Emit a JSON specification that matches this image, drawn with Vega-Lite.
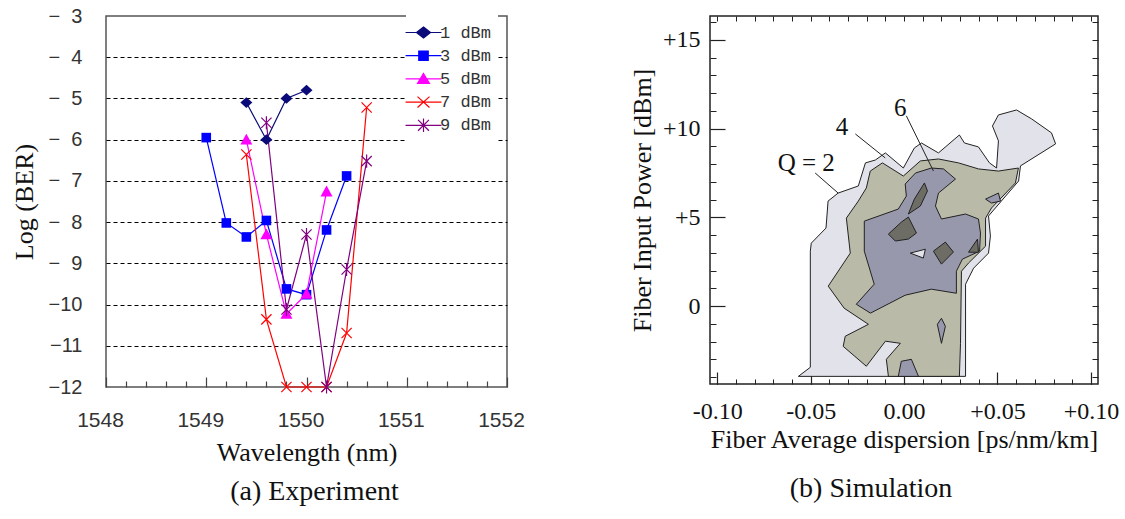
{
  "$schema": "https://vega.github.io/schema/vega-lite/v6.json",
  "background": "white",
  "padding": {"left": 10, "top": 5, "right": 0, "bottom": 5},
  "spacing": 102,
  "resolve": {"scale": {"color": "independent", "shape": "independent"}, "legend": {"color": "independent", "shape": "independent"}},
  "datasets": {
    "ber": [
      {"series": "1 dBm", "wl": 1549.4, "ber": -5.1},
      {"series": "1 dBm", "wl": 1549.6, "ber": -6.0},
      {"series": "1 dBm", "wl": 1549.8, "ber": -5.0},
      {"series": "1 dBm", "wl": 1550.0, "ber": -4.8},
      {"series": "3 dBm", "wl": 1549.0, "ber": -5.95},
      {"series": "3 dBm", "wl": 1549.2, "ber": -8.02},
      {"series": "3 dBm", "wl": 1549.4, "ber": -8.36},
      {"series": "3 dBm", "wl": 1549.6, "ber": -7.96},
      {"series": "3 dBm", "wl": 1549.8, "ber": -9.62},
      {"series": "3 dBm", "wl": 1550.0, "ber": -9.76},
      {"series": "3 dBm", "wl": 1550.2, "ber": -8.19},
      {"series": "3 dBm", "wl": 1550.4, "ber": -6.88},
      {"series": "5 dBm", "wl": 1549.4, "ber": -6.0},
      {"series": "5 dBm", "wl": 1549.6, "ber": -8.3},
      {"series": "5 dBm", "wl": 1549.8, "ber": -10.23},
      {"series": "5 dBm", "wl": 1550.0, "ber": -9.74},
      {"series": "5 dBm", "wl": 1550.2, "ber": -7.26},
      {"series": "7 dBm", "wl": 1549.4, "ber": -6.36},
      {"series": "7 dBm", "wl": 1549.6, "ber": -10.36},
      {"series": "7 dBm", "wl": 1549.8, "ber": -12},
      {"series": "7 dBm", "wl": 1550.0, "ber": -12},
      {"series": "7 dBm", "wl": 1550.2, "ber": -12},
      {"series": "7 dBm", "wl": 1550.4, "ber": -10.69},
      {"series": "7 dBm", "wl": 1550.6, "ber": -5.22},
      {"series": "9 dBm", "wl": 1549.6, "ber": -5.59},
      {"series": "9 dBm", "wl": 1549.8, "ber": -10.12},
      {"series": "9 dBm", "wl": 1550.0, "ber": -8.3},
      {"series": "9 dBm", "wl": 1550.2, "ber": -12},
      {"series": "9 dBm", "wl": 1550.4, "ber": -9.15},
      {"series": "9 dBm", "wl": 1550.6, "ber": -6.52}
    ],
    "contour": [
      {"lv": "q2", "p": 1, "i": 1, "x": -0.0566, "y": -3.95},
      {"lv": "q2", "p": 1, "i": 2, "x": -0.0502, "y": -3.44},
      {"lv": "q2", "p": 1, "i": 3, "x": -0.0502, "y": 3.10},
      {"lv": "q2", "p": 1, "i": 4, "x": -0.0497, "y": 3.55},
      {"lv": "q2", "p": 1, "i": 5, "x": -0.0418, "y": 4.40},
      {"lv": "q2", "p": 1, "i": 6, "x": -0.0407, "y": 5.92},
      {"lv": "q2", "p": 1, "i": 7, "x": -0.0353, "y": 6.37},
      {"lv": "q2", "p": 1, "i": 8, "x": -0.0245, "y": 6.77},
      {"lv": "q2", "p": 1, "i": 9, "x": -0.0207, "y": 8.07},
      {"lv": "q2", "p": 1, "i": 10, "x": -0.0154, "y": 8.23},
      {"lv": "q2", "p": 1, "i": 11, "x": -0.0100, "y": 8.63},
      {"lv": "q2", "p": 1, "i": 12, "x": -0.0004, "y": 7.78},
      {"lv": "q2", "p": 1, "i": 13, "x": 0.0055, "y": 8.91},
      {"lv": "q2", "p": 1, "i": 14, "x": 0.0093, "y": 9.19},
      {"lv": "q2", "p": 1, "i": 15, "x": 0.0184, "y": 8.63},
      {"lv": "q2", "p": 1, "i": 16, "x": 0.0296, "y": 9.64},
      {"lv": "q2", "p": 1, "i": 17, "x": 0.0323, "y": 9.19},
      {"lv": "q2", "p": 1, "i": 18, "x": 0.0398, "y": 8.97},
      {"lv": "q2", "p": 1, "i": 19, "x": 0.0457, "y": 8.07},
      {"lv": "q2", "p": 1, "i": 20, "x": 0.0495, "y": 7.78},
      {"lv": "q2", "p": 1, "i": 21, "x": 0.0505, "y": 9.31},
      {"lv": "q2", "p": 1, "i": 22, "x": 0.0473, "y": 10.15},
      {"lv": "q2", "p": 1, "i": 23, "x": 0.0505, "y": 10.77},
      {"lv": "q2", "p": 1, "i": 24, "x": 0.0602, "y": 11.05},
      {"lv": "q2", "p": 1, "i": 25, "x": 0.0682, "y": 10.55},
      {"lv": "q2", "p": 1, "i": 26, "x": 0.0789, "y": 9.76},
      {"lv": "q2", "p": 1, "i": 27, "x": 0.0811, "y": 9.14},
      {"lv": "q2", "p": 1, "i": 28, "x": 0.0623, "y": 7.90},
      {"lv": "q2", "p": 1, "i": 29, "x": 0.0613, "y": 7.05},
      {"lv": "q2", "p": 1, "i": 30, "x": 0.0452, "y": 5.08},
      {"lv": "q2", "p": 1, "i": 31, "x": 0.0462, "y": 3.95},
      {"lv": "q2", "p": 1, "i": 32, "x": 0.0452, "y": 2.99},
      {"lv": "q2", "p": 1, "i": 33, "x": 0.0372, "y": 2.14},
      {"lv": "q2", "p": 1, "i": 34, "x": 0.0329, "y": 1.24},
      {"lv": "q2", "p": 1, "i": 35, "x": 0.0329, "y": -3.95},
      {"lv": "q2", "p": 1, "i": 36, "x": -0.0566, "y": -3.95},
      {"lv": "q4", "p": 1, "i": 1, "x": -0.0181, "y": 7.61},
      {"lv": "q4", "p": 1, "i": 2, "x": -0.0116, "y": 8.07},
      {"lv": "q4", "p": 1, "i": 3, "x": -0.0004, "y": 7.33},
      {"lv": "q4", "p": 1, "i": 4, "x": 0.0087, "y": 8.18},
      {"lv": "q4", "p": 1, "i": 5, "x": 0.0184, "y": 8.29},
      {"lv": "q4", "p": 1, "i": 6, "x": 0.0291, "y": 8.07},
      {"lv": "q4", "p": 1, "i": 7, "x": 0.0398, "y": 7.73},
      {"lv": "q4", "p": 1, "i": 8, "x": 0.0505, "y": 7.61},
      {"lv": "q4", "p": 1, "i": 9, "x": 0.0612, "y": 7.78},
      {"lv": "q4", "p": 1, "i": 10, "x": 0.0596, "y": 6.94},
      {"lv": "q4", "p": 1, "i": 11, "x": 0.0468, "y": 5.53},
      {"lv": "q4", "p": 1, "i": 12, "x": 0.0436, "y": 4.96},
      {"lv": "q4", "p": 1, "i": 13, "x": 0.0436, "y": 3.38},
      {"lv": "q4", "p": 1, "i": 14, "x": 0.0345, "y": 2.43},
      {"lv": "q4", "p": 1, "i": 15, "x": 0.0307, "y": 1.97},
      {"lv": "q4", "p": 1, "i": 16, "x": 0.0302, "y": -2.09},
      {"lv": "q4", "p": 1, "i": 17, "x": 0.0296, "y": -3.95},
      {"lv": "q4", "p": 1, "i": 18, "x": -0.0084, "y": -3.95},
      {"lv": "q4", "p": 1, "i": 19, "x": -0.0095, "y": -2.99},
      {"lv": "q4", "p": 1, "i": 20, "x": -0.0020, "y": -2.09},
      {"lv": "q4", "p": 1, "i": 21, "x": -0.0100, "y": -1.97},
      {"lv": "q4", "p": 1, "i": 22, "x": -0.0202, "y": -3.38},
      {"lv": "q4", "p": 1, "i": 23, "x": -0.0326, "y": -2.26},
      {"lv": "q4", "p": 1, "i": 24, "x": -0.0315, "y": -1.69},
      {"lv": "q4", "p": 1, "i": 25, "x": -0.0191, "y": -1.02},
      {"lv": "q4", "p": 1, "i": 26, "x": -0.0321, "y": -0.11},
      {"lv": "q4", "p": 1, "i": 27, "x": -0.0406, "y": 1.13},
      {"lv": "q4", "p": 1, "i": 28, "x": -0.0288, "y": 2.99},
      {"lv": "q4", "p": 1, "i": 29, "x": -0.0309, "y": 4.96},
      {"lv": "q4", "p": 1, "i": 30, "x": -0.0245, "y": 5.92},
      {"lv": "q4", "p": 1, "i": 31, "x": -0.0202, "y": 6.66},
      {"lv": "q4", "p": 1, "i": 32, "x": -0.0181, "y": 7.61},
      {"lv": "q6", "p": 1, "i": 1, "x": 0.0006, "y": 6.88},
      {"lv": "q6", "p": 1, "i": 2, "x": 0.0061, "y": 7.50},
      {"lv": "q6", "p": 1, "i": 3, "x": 0.0146, "y": 7.78},
      {"lv": "q6", "p": 1, "i": 4, "x": 0.0211, "y": 7.73},
      {"lv": "q6", "p": 1, "i": 5, "x": 0.0275, "y": 7.16},
      {"lv": "q6", "p": 1, "i": 6, "x": 0.0184, "y": 6.37},
      {"lv": "q6", "p": 1, "i": 7, "x": 0.0168, "y": 5.64},
      {"lv": "q6", "p": 1, "i": 8, "x": 0.0200, "y": 4.91},
      {"lv": "q6", "p": 1, "i": 9, "x": 0.0329, "y": 5.19},
      {"lv": "q6", "p": 1, "i": 10, "x": 0.0398, "y": 4.91},
      {"lv": "q6", "p": 1, "i": 11, "x": 0.0409, "y": 4.12},
      {"lv": "q6", "p": 1, "i": 12, "x": 0.0404, "y": 3.10},
      {"lv": "q6", "p": 1, "i": 13, "x": 0.0312, "y": 2.65},
      {"lv": "q6", "p": 1, "i": 14, "x": 0.0280, "y": 1.97},
      {"lv": "q6", "p": 1, "i": 15, "x": 0.0280, "y": 0.73},
      {"lv": "q6", "p": 1, "i": 16, "x": 0.0146, "y": 0.96},
      {"lv": "q6", "p": 1, "i": 17, "x": 0.0006, "y": 0.62},
      {"lv": "q6", "p": 1, "i": 18, "x": -0.0180, "y": -0.39},
      {"lv": "q6", "p": 1, "i": 19, "x": -0.0256, "y": 0.11},
      {"lv": "q6", "p": 1, "i": 20, "x": -0.0160, "y": 1.24},
      {"lv": "q6", "p": 1, "i": 21, "x": -0.0213, "y": 3.10},
      {"lv": "q6", "p": 1, "i": 22, "x": -0.0213, "y": 4.79},
      {"lv": "q6", "p": 1, "i": 23, "x": -0.0031, "y": 5.47},
      {"lv": "q6", "p": 1, "i": 24, "x": 0.0012, "y": 6.20},
      {"lv": "q6", "p": 1, "i": 25, "x": 0.0006, "y": 6.88},
      {"lv": "q6", "p": 2, "i": 1, "x": 0.0436, "y": 6.03},
      {"lv": "q6", "p": 2, "i": 2, "x": 0.0505, "y": 6.37},
      {"lv": "q6", "p": 2, "i": 3, "x": 0.0516, "y": 5.92},
      {"lv": "q6", "p": 2, "i": 4, "x": 0.0468, "y": 5.81},
      {"lv": "q6", "p": 2, "i": 5, "x": 0.0436, "y": 6.03},
      {"lv": "q6", "p": 3, "i": 1, "x": 0.0200, "y": -0.68},
      {"lv": "q6", "p": 3, "i": 2, "x": 0.0221, "y": -1.13},
      {"lv": "q6", "p": 3, "i": 3, "x": 0.0200, "y": -2.09},
      {"lv": "q6", "p": 3, "i": 4, "x": 0.0178, "y": -1.02},
      {"lv": "q6", "p": 3, "i": 5, "x": 0.0200, "y": -0.68},
      {"lv": "q6", "p": 4, "i": 1, "x": -0.0015, "y": -3.10},
      {"lv": "q6", "p": 4, "i": 2, "x": 0.0039, "y": -2.99},
      {"lv": "q6", "p": 4, "i": 3, "x": 0.0077, "y": -3.95},
      {"lv": "q6", "p": 4, "i": 4, "x": -0.0031, "y": -3.95},
      {"lv": "q6", "p": 4, "i": 5, "x": -0.0015, "y": -3.10},
      {"lv": "q8", "p": 1, "i": 1, "x": 0.0109, "y": 6.94},
      {"lv": "q8", "p": 1, "i": 2, "x": 0.0125, "y": 6.49},
      {"lv": "q8", "p": 1, "i": 3, "x": 0.0087, "y": 5.64},
      {"lv": "q8", "p": 1, "i": 4, "x": 0.0023, "y": 5.19},
      {"lv": "q8", "p": 1, "i": 5, "x": 0.0055, "y": 6.03},
      {"lv": "q8", "p": 1, "i": 6, "x": 0.0109, "y": 6.94},
      {"lv": "q8", "p": 2, "i": 1, "x": -0.0084, "y": 4.06},
      {"lv": "q8", "p": 2, "i": 2, "x": -0.0014, "y": 4.74},
      {"lv": "q8", "p": 2, "i": 3, "x": 0.0023, "y": 5.02},
      {"lv": "q8", "p": 2, "i": 4, "x": 0.0066, "y": 4.12},
      {"lv": "q8", "p": 2, "i": 5, "x": 0.0023, "y": 3.78},
      {"lv": "q8", "p": 2, "i": 6, "x": -0.0047, "y": 3.67},
      {"lv": "q8", "p": 2, "i": 7, "x": -0.0084, "y": 4.06},
      {"lv": "q8", "p": 3, "i": 1, "x": 0.0157, "y": 3.10},
      {"lv": "q8", "p": 3, "i": 2, "x": 0.0221, "y": 3.61},
      {"lv": "q8", "p": 3, "i": 3, "x": 0.0264, "y": 3.05},
      {"lv": "q8", "p": 3, "i": 4, "x": 0.0200, "y": 2.37},
      {"lv": "q8", "p": 3, "i": 5, "x": 0.0157, "y": 3.10},
      {"lv": "q8", "p": 4, "i": 1, "x": 0.0393, "y": 3.78},
      {"lv": "q8", "p": 4, "i": 2, "x": 0.0398, "y": 3.04},
      {"lv": "q8", "p": 4, "i": 3, "x": 0.0345, "y": 3.04},
      {"lv": "q8", "p": 4, "i": 4, "x": 0.0393, "y": 3.78},
      {"lv": "h", "p": 1, "i": 1, "x": 0.0033, "y": 2.99},
      {"lv": "h", "p": 1, "i": 2, "x": 0.0114, "y": 3.21},
      {"lv": "h", "p": 1, "i": 3, "x": 0.0103, "y": 2.71},
      {"lv": "h", "p": 1, "i": 4, "x": 0.0033, "y": 2.99}
    ]
  },
  "hconcat": [
    {
      "width": 401,
      "height": 371,
      "view": {"stroke": "#555555", "strokeWidth": 1.5},
      "title": {"text": "(a) Experiment", "orient": "bottom", "frame": "group", "anchor": "middle", "dx": 8, "offset": 13, "font": "Liberation Serif", "fontSize": 28, "fontWeight": "normal", "color": "#111111"},
      "data": {"name": "ber"},
      "resolve": {"axis": {"x": "independent", "y": "independent"}},
      "layer": [
        {
          "mark": {"type": "line", "strokeWidth": 1.2},
          "encoding": {
            "x": {"field": "wl", "type": "quantitative", "scale": {"domain": [1548, 1552], "nice": false, "zero": false},
              "axis": {"orient": "bottom", "values": [1548, 1549, 1550, 1551, 1552], "format": "d", "ticks": false, "domain": false, "grid": false, "labelFont": "Liberation Sans", "labelFontSize": 21, "labelColor": "#333333", "labelPadding": 22, "labelOffset": -6, "labelFlush": false, "labelOverlap": false, "title": "Wavelength (nm)", "titleFont": "Liberation Serif", "titleFontSize": 26, "titleFontWeight": "normal", "titleColor": "#111111", "titlePadding": 9}},
            "y": {"field": "ber", "type": "quantitative", "scale": {"domain": [-12, -3], "nice": false, "zero": false},
              "axis": {"orient": "left", "values": [-3, -4, -5, -6, -7, -8, -9, -10, -11, -12], "labelExpr": "(datum.value > -10 ? '−\u2007' : '−') + abs(datum.value)", "ticks": false, "domain": false, "grid": false, "labelFont": "Liberation Sans", "labelFontSize": 20, "labelColor": "#333333", "labelPadding": 24, "labelFlush": false, "labelOverlap": false, "title": "Log (BER)", "titleFont": "Liberation Serif", "titleFontSize": 26, "titleFontWeight": "normal", "titleColor": "#111111", "titlePadding": 11}},
            "color": {"field": "series", "type": "nominal",
              "scale": {"domain": ["1 dBm", "3 dBm", "5 dBm", "7 dBm", "9 dBm"], "range": ["#0a0a78", "#0000ff", "#ff00ff", "#ff0000", "#800080"]},
              "legend": {"title": null, "orient": "none", "legendX": 300, "legendY": -1, "padding": 6, "fillColor": "#ffffff", "strokeColor": null, "symbolSize": 441, "symbolStrokeWidth": 1.2, "labelFont": "Liberation Mono", "labelFontSize": 17, "labelColor": "#333333", "labelOffset": 5, "rowPadding": 3.2, "labelLimit": 200}}
          }
        },
        {
          "mark": {"type": "point", "filled": true, "opacity": 0, "size": 441},
          "encoding": {
            "x": {"field": "wl", "type": "quantitative", "axis": null},
            "y": {"field": "ber", "type": "quantitative", "axis": null},
            "color": {"field": "series", "type": "nominal", "legend": null},
            "shape": {"field": "series", "type": "nominal",
              "scale": {"domain": ["1 dBm", "3 dBm", "5 dBm", "7 dBm", "9 dBm"], "range": ["M-1.71,0H1.71M0,-0.52L0.67,0L0,0.52L-0.67,0Z", "M-1.71,0H1.71M-0.45,-0.45H0.45V0.45H-0.45Z", "M-1.71,0H1.71M0,-0.52L0.57,0.43H-0.57Z", "M-1.71,0H1.71M-0.57,-0.52L0.57,0.52M-0.57,0.52L0.57,-0.52", "M-1.71,0H1.71M-0.52,-0.52L0.52,0.52M-0.52,0.52L0.52,-0.52M0,-0.64V0.64"]},
              "legend": null}
          }
        },
        {
          "transform": [{"filter": "datum.series === '1 dBm'"}],
          "mark": {"type": "point", "filled": true, "opacity": 1, "size": 144, "shape": "M0,-0.9L1,0L0,0.9L-1,0Z"},
          "encoding": {
            "x": {"field": "wl", "type": "quantitative",
              "axis": {"orient": "bottom", "values": [1548, 1549, 1550, 1551, 1552], "tickSize": -10, "tickColor": "#444444", "tickWidth": 1.2, "labels": false, "domain": false, "grid": false, "title": null}},
            "y": {"field": "ber", "type": "quantitative",
              "axis": {"orient": "left", "values": [-4, -5, -6, -7, -8, -9, -10, -11], "ticks": false, "labels": false, "domain": false, "grid": true, "gridColor": "#000000", "gridDash": [4, 3], "gridWidth": 1, "gridOpacity": 1, "title": null}},
            "color": {"field": "series", "type": "nominal", "legend": null}
          }
        },
        {
          "transform": [{"filter": "datum.series === '3 dBm'"}],
          "mark": {"type": "point", "filled": true, "opacity": 1, "size": 144, "shape": "M-0.8,-0.8H0.8V0.8H-0.8Z"},
          "encoding": {
            "x": {"field": "wl", "type": "quantitative",
              "axis": {"orient": "bottom", "values": [1548.2, 1548.4, 1548.6, 1548.8, 1549.2, 1549.4, 1549.6, 1549.8, 1550.2, 1550.4, 1550.6, 1550.8, 1551.2, 1551.4, 1551.6, 1551.8], "tickSize": -6, "tickColor": "#444444", "tickWidth": 1.2, "labels": false, "domain": false, "grid": false, "title": null}},
            "y": {"field": "ber", "type": "quantitative", "axis": null},
            "color": {"field": "series", "type": "nominal", "legend": null}
          }
        },
        {
          "transform": [{"filter": "datum.series === '5 dBm'"}],
          "mark": {"type": "point", "filled": true, "opacity": 1, "size": 144, "shape": "M0,-1L1,0.8H-1Z"},
          "encoding": {
            "x": {"field": "wl", "type": "quantitative", "axis": null},
            "y": {"field": "ber", "type": "quantitative", "axis": null},
            "color": {"field": "series", "type": "nominal", "legend": null}
          }
        },
        {
          "transform": [{"filter": "datum.series === '7 dBm'"}],
          "mark": {"type": "point", "filled": false, "opacity": 1, "size": 144, "strokeWidth": 1.2, "shape": "M-0.85,-0.85L0.85,0.85M-0.85,0.85L0.85,-0.85"},
          "encoding": {
            "x": {"field": "wl", "type": "quantitative", "axis": null},
            "y": {"field": "ber", "type": "quantitative", "axis": null},
            "color": {"field": "series", "type": "nominal", "legend": null}
          }
        },
        {
          "transform": [{"filter": "datum.series === '9 dBm'"}],
          "mark": {"type": "point", "filled": false, "opacity": 1, "size": 144, "strokeWidth": 1.2, "shape": "M-0.85,-0.85L0.85,0.85M-0.85,0.85L0.85,-0.85M0,-1.1V1.1"},
          "encoding": {
            "x": {"field": "wl", "type": "quantitative", "axis": null},
            "y": {"field": "ber", "type": "quantitative", "axis": null},
            "color": {"field": "series", "type": "nominal", "legend": null}
          }
        }
      ]
    },
    {
      "width": 388,
      "height": 368,
      "view": {"stroke": "#222222", "strokeWidth": 1.5},
      "title": {"text": "(b) Simulation", "orient": "bottom", "frame": "group", "anchor": "middle", "dx": -33, "offset": 23, "font": "Liberation Serif", "fontSize": 28, "fontWeight": "normal", "color": "#111111"},
      "data": {"name": "contour"},
      "resolve": {"axis": {"x": "independent", "y": "independent"}},
      "layer": [
        {
          "transform": [{"filter": "datum.lv === 'q2'"}],
          "mark": {"type": "line", "fill": "#e2e2ea", "stroke": "#222222", "strokeWidth": 1, "strokeJoin": "round"},
          "encoding": {
            "x": {"field": "x", "type": "quantitative", "scale": {"domain": [-0.1039, 0.1038], "nice": false, "zero": false},
              "axis": {"orient": "bottom", "values": [-0.1, -0.05, 0, 0.05, 0.1], "labelExpr": "datum.value < -0.001 ? '-' + format(-datum.value, '.2f') : datum.value > 0.001 ? '+' + format(datum.value, '.2f') : '0.00'", "ticks": false, "domain": false, "grid": false, "labelFont": "Liberation Serif", "labelFontSize": 24, "labelColor": "#111111", "labelPadding": 15, "labelFlush": false, "labelOverlap": false, "title": "Fiber Average dispersion [ps/nm/km]", "titleFont": "Liberation Serif", "titleFontSize": 26, "titleFontWeight": "normal", "titleColor": "#111111", "titlePadding": 3}},
            "y": {"field": "y", "type": "quantitative", "scale": {"domain": [-4.38, 16.34], "nice": false, "zero": false},
              "axis": {"orient": "left", "values": [0, 5, 10, 15], "labelExpr": "datum.value > 0 ? '+' + datum.value : '' + datum.value", "ticks": false, "domain": false, "grid": false, "labelFont": "Liberation Serif", "labelFontSize": 24, "labelColor": "#111111", "labelPadding": 10, "labelFlush": false, "labelOverlap": false, "title": "Fiber Input Power [dBm]", "titleFont": "Liberation Serif", "titleFontSize": 26, "titleFontWeight": "normal", "titleColor": "#111111", "titlePadding": 7}},
            "detail": {"field": "p", "type": "nominal"},
            "order": {"field": "i", "type": "quantitative"}
          }
        },
        {
          "transform": [{"filter": "datum.lv === 'q4'"}],
          "mark": {"type": "line", "fill": "#babaa8", "stroke": "#222222", "strokeWidth": 1, "strokeJoin": "round"},
          "encoding": {
            "x": {"field": "x", "type": "quantitative",
              "axis": {"orient": "bottom", "values": [-0.1, -0.05, 0, 0.05, 0.1], "tickSize": -12, "tickColor": "#222222", "tickWidth": 1.2, "labels": false, "domain": false, "grid": false, "title": null}},
            "y": {"field": "y", "type": "quantitative",
              "axis": {"orient": "left", "values": [0, 5, 10, 15], "tickSize": -15, "tickColor": "#222222", "tickWidth": 1.2, "labels": false, "domain": false, "grid": false, "title": null}},
            "detail": {"field": "p", "type": "nominal"},
            "order": {"field": "i", "type": "quantitative"}
          }
        },
        {
          "transform": [{"filter": "datum.lv === 'q6'"}],
          "mark": {"type": "line", "fill": "#9898ac", "stroke": "#222222", "strokeWidth": 1, "strokeJoin": "round"},
          "encoding": {
            "x": {"field": "x", "type": "quantitative",
              "axis": {"orient": "bottom", "values": [-0.1, -0.09, -0.08, -0.07, -0.06, -0.05, -0.04, -0.03, -0.02, -0.01, 0, 0.01, 0.02, 0.03, 0.04, 0.05, 0.06, 0.07, 0.08, 0.09, 0.1], "tickSize": -5, "tickColor": "#222222", "tickWidth": 1, "labels": false, "domain": false, "grid": false, "title": null}},
            "y": {"field": "y", "type": "quantitative",
              "axis": {"orient": "left", "values": [-4, -3, -2, -1, 0, 1, 2, 3, 4, 5, 6, 7, 8, 9, 10, 11, 12, 13, 14, 15, 16], "tickSize": -6, "tickColor": "#222222", "tickWidth": 1, "labels": false, "domain": false, "grid": false, "title": null}},
            "detail": {"field": "p", "type": "nominal"},
            "order": {"field": "i", "type": "quantitative"}
          }
        },
        {
          "transform": [{"filter": "datum.lv === 'q8'"}],
          "mark": {"type": "line", "fill": "#6d6d66", "stroke": "#222222", "strokeWidth": 1, "strokeJoin": "round"},
          "encoding": {
            "x": {"field": "x", "type": "quantitative",
              "axis": {"orient": "top", "values": [-0.1, -0.09, -0.08, -0.07, -0.06, -0.05, -0.04, -0.03, -0.02, -0.01, 0, 0.01, 0.02, 0.03, 0.04, 0.05, 0.06, 0.07, 0.08, 0.09, 0.1], "tickSize": -5, "tickColor": "#222222", "tickWidth": 1, "labels": false, "domain": false, "grid": false, "title": null}},
            "y": {"field": "y", "type": "quantitative",
              "axis": {"orient": "right", "values": [-4, -3, -2, -1, 0, 1, 2, 3, 4, 5, 6, 7, 8, 9, 10, 11, 12, 13, 14, 15, 16], "tickSize": -6, "tickColor": "#222222", "tickWidth": 1, "labels": false, "domain": false, "grid": false, "title": null}},
            "detail": {"field": "p", "type": "nominal"},
            "order": {"field": "i", "type": "quantitative"}
          }
        },
        {
          "transform": [{"filter": "datum.lv === 'h'"}],
          "mark": {"type": "line", "fill": "#e2e2ea", "stroke": "#222222", "strokeWidth": 1, "strokeJoin": "round"},
          "encoding": {
            "x": {"field": "x", "type": "quantitative", "axis": null},
            "y": {"field": "y", "type": "quantitative", "axis": null},
            "detail": {"field": "p", "type": "nominal"},
            "order": {"field": "i", "type": "quantitative"}
          }
        },
        {
          "data": {"values": [
            {"x": -0.0476, "y": 7.50, "x2": -0.0353, "y2": 6.37},
            {"x": -0.0261, "y": 9.70, "x2": -0.0101, "y2": 8.35},
            {"x": 0.0012, "y": 10.72, "x2": 0.0157, "y2": 7.61}
          ]},
          "mark": {"type": "rule", "color": "#222222", "strokeWidth": 1},
          "encoding": {
            "x": {"field": "x", "type": "quantitative", "axis": null},
            "y": {"field": "y", "type": "quantitative", "axis": null},
            "x2": {"field": "x2"},
            "y2": {"field": "y2"}
          }
        },
        {
          "data": {"values": [
            {"x": -0.0524, "y": 8.07, "t": "Q = 2"},
            {"x": -0.0332, "y": 10.1, "t": "4"},
            {"x": -0.002, "y": 11.17, "t": "6"}
          ]},
          "mark": {"type": "text", "font": "Liberation Serif", "fontSize": 25, "color": "#111111", "align": "center", "baseline": "middle"},
          "encoding": {
            "x": {"field": "x", "type": "quantitative", "axis": null},
            "y": {"field": "y", "type": "quantitative", "axis": null},
            "text": {"field": "t", "type": "nominal"}
          }
        }
      ]
    }
  ]
}
